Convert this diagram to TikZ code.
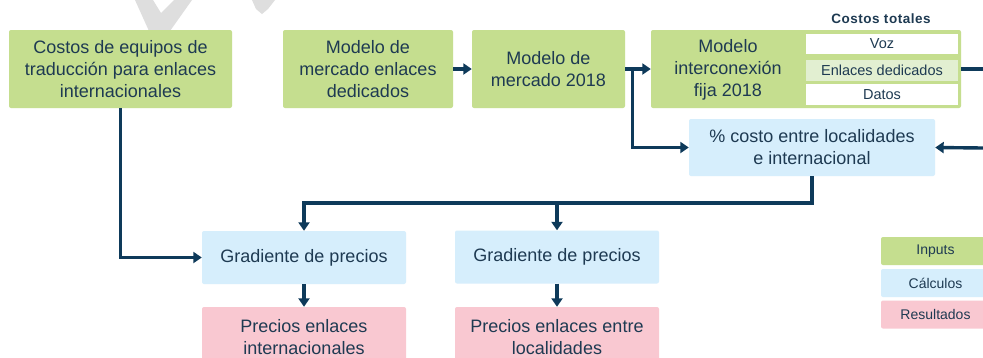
\documentclass[tikz,border=0pt]{standalone}
\usepackage{fontspec}
\setmainfont{Liberation Sans}
\usetikzlibrary{arrows.meta}
\definecolor{gfill}{HTML}{C5DE8F}
\definecolor{gfillL}{HTML}{E2EFD1}
\definecolor{bfill}{HTML}{D6EEFC}
\definecolor{pfill}{HTML}{F9C8D1}
\definecolor{txt}{HTML}{1E3A52}
\definecolor{arrc}{HTML}{0E3A5A}
\definecolor{wm}{HTML}{DEDEDE}
\tikzset{
  basebox/.style={rectangle, rounded corners=2pt, inner sep=0pt, align=center, text=txt,
    font=\fontsize{18}{22}\selectfont},
  greenbox/.style={basebox, fill=gfill},
  calcbox/.style={basebox, fill=bfill},
  resbox/.style={basebox, fill=pfill},
  subbox/.style={rectangle, inner sep=0pt, text=txt, font=\fontsize{14.5}{17}\selectfont,
    minimum width=152pt},
  legbox/.style={rectangle, rounded corners=2pt, inner sep=0pt, text=txt,
    font=\fontsize{14}{16}\selectfont, minimum width=109pt, minimum height=28pt},
  line/.style={draw=arrc, line width=3.4pt},
  arr/.style={line, -{Triangle[length=8.5pt,width=11pt]}}
}
\begin{document}
\begin{tikzpicture}[x=1pt,y=-1pt]
\useasboundingbox (0,0) rectangle (983,357);
\fill[white] (0,0) rectangle (983,357);
% watermark fragments
\fill[wm] (135,0) -- (153,0) -- (161,13) -- (174,0) -- (192,0) -- (170,31) -- (149,31) -- cycle;
\fill[wm] (252,0) -- (275,0) -- (268,9) -- (262,14) -- (256,9) -- cycle;

% top row
\node[greenbox, minimum width=223pt, minimum height=78pt] (c1) at (120.5,69)
  {Costos de equipos de\\traducción para enlaces\\internacionales};
\node[greenbox, minimum width=170pt, minimum height=78pt] (c2) at (368,69)
  {Modelo de\\mercado enlaces\\dedicados};
\node[greenbox, minimum width=153pt, minimum height=78pt] (c3) at (548.5,69)
  {Modelo de\\mercado 2018};
\node[greenbox, minimum width=310pt, minimum height=78pt] (c4) at (806,69) {};
\node[text=txt, align=center, font=\fontsize{18}{22}\selectfont, inner sep=0pt] (c4t) at (728,70)
  {Modelo\\interconexión\\fija 2018};
\node[subbox, fill=white, minimum height=20pt] (voz) at (882,44) {Voz};
\node[subbox, fill=gfillL, minimum height=21pt] (enl) at (882,70.5) {Enlaces dedicados};
\node[subbox, fill=white, minimum height=21pt] (dat) at (882,94.5) {Datos};
\node[text=txt, inner sep=0pt, font=\fontsize{13.5}{16}\selectfont\bfseries\addfontfeatures{LetterSpace=4}] (ct) at (881,19) {Costos totales};

% calc boxes
\node[calcbox, minimum width=246pt, minimum height=57pt] (pc) at (812,147.5)
  {\% costo entre localidades\\e internacional};
\node[calcbox, minimum width=204pt, minimum height=53pt] (g1) at (304,257.5) {Gradiente de precios};
\node[calcbox, minimum width=204pt, minimum height=53pt] (g2) at (557,257) {Gradiente de precios};

% result boxes
\node[resbox, minimum width=204pt, minimum height=60pt] (p1) at (304,337)
  {Precios enlaces\\internacionales};
\node[resbox, minimum width=204pt, minimum height=60pt] (p2) at (557,337)
  {Precios enlaces entre\\localidades};

% legend
\node[legbox, fill=gfill] (l1) at (935.5,251) {Inputs};
\node[legbox, fill=bfill] (l2) at (935.5,283) {Cálculos};
\node[legbox, fill=pfill] (l3) at (935.5,314.5) {Resultados};

% connectors
\coordinate (j) at (0,203);
\coordinate (e1) at (983,69);
\coordinate (e2) at (983,148);
\draw[arr] (c1.south) |- (g1.west);
\draw[arr] (c2.east) -- (c3.west);
\draw[arr] (c3.east) -- (c4.west);
\draw[arr] ([xshift=7pt]c3.east) |- (pc.west);
\draw[arr] (pc.south) |- (g1.north |- j) -- (g1.north);
\draw[arr] (g2.north |- j) -- (g2.north);
\draw[line] (c4.east) -- (e1);
\draw[arr] (e2) -- (pc.east);
\draw[arr] (g1.south) -- (p1.north);
\draw[arr] (g2.south) -- (p2.north);
\end{tikzpicture}
\end{document}
